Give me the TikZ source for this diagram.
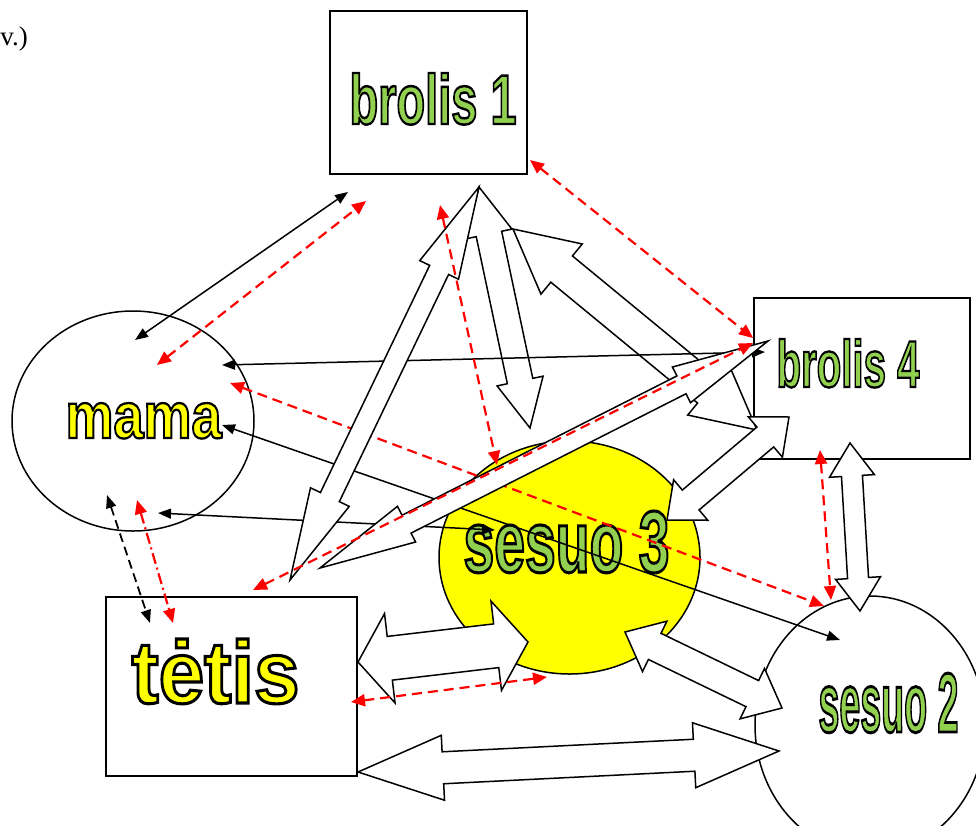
\documentclass[tikz,border=0pt]{standalone}
\usepackage{fontspec}
\setmainfont{Liberation Serif}
\newfontfamily\lblfont{Liberation Sans}
\usetikzlibrary{calc,arrows.meta,shapes.geometric}
\definecolor{lgreen}{RGB}{146,208,80}
\definecolor{yel}{RGB}{255,255,0}

% double block arrow: tip, tip, shaft half width, head half width, head length
\newcommand{\dblarr}[5]{%
  \filldraw[blockarr] (#1)
    -- ($(#1)!#5!(#2)!#4!90:(#2)$) -- ($(#1)!#5!(#2)!#3!90:(#2)$)
    -- ($(#2)!#5!(#1)!#3!-90:(#1)$) -- ($(#2)!#5!(#1)!#4!-90:(#1)$)
    -- (#2)
    -- ($(#2)!#5!(#1)!#4!90:(#1)$) -- ($(#2)!#5!(#1)!#3!90:(#1)$)
    -- ($(#1)!#5!(#2)!#3!-90:(#2)$) -- ($(#1)!#5!(#2)!#4!-90:(#2)$)
    -- cycle;}
% outlined word squeezed to width #1 and height #2
\newcommand{\famname}[3]{\resizebox{#1}{#2}{\special{pdf:literal direct 0 0 0 RG 2.8 w 2 Tr}#3\special{pdf:literal direct 0 Tr}}}

\begin{document}
\begin{tikzpicture}[x=1pt,y=-1pt,
    famnode/.style={draw, line width=1.5pt, inner sep=0pt},
    lbl/.style={anchor=base, inner sep=0pt, font=\lblfont\bfseries\fontsize{80pt}{80pt}\selectfont},
    blockarr/.style={draw=black, fill=white, line width=1.5pt, line join=miter},
    link/.style={line width=1.5pt, >={Triangle[length=13pt,width=10pt]}, <->},
    blink/.style={link, line width=1.8pt, dash pattern=on 9pt off 5pt},
    rlink/.style={red, line width=2.2pt, dash pattern=on 10pt off 6pt, >={Triangle[length=14pt,width=12pt]}, <->},
    rdlink/.style={rlink, dash pattern=on 11pt off 4pt on 2pt off 4pt}]
\useasboundingbox (0,0) rectangle (976,825);

\node[anchor=base east, inner sep=0pt, font=\fontsize{27pt}{30pt}\selectfont] (note) at (28,45) {v.)};

% family
\node[famnode, minimum width=197pt, minimum height=163pt] (b1) at (428.5,92.5) {};
\node[famnode, minimum width=216pt, minimum height=161pt] (b4) at (862,378.5) {};
\node[famnode, minimum width=251pt, minimum height=179pt] (tetis) at (231.5,686.5) {};
\node[famnode, ellipse, minimum width=242pt, minimum height=220pt] (mama) at (133,421) {};
\node[famnode, ellipse, fill=yel, minimum width=261pt, minimum height=233pt] (s3) at (569.5,557.5) {};
\node[famnode, ellipse, minimum width=230pt, minimum height=258pt] (s2) at (870,725) {};

\node[lbl, text=lgreen] (b1txt) at (433,124) {\famname{167pt}{51pt}{brolis 1}};
\node[lbl, text=lgreen] (b4txt) at (848,387) {\famname{143pt}{48pt}{brolis 4}};
\node[lbl, text=yel] (mamatxt) at (143.5,438) {\famname{156pt}{35pt}{mama}};
\node[lbl, text=yel] (tetistxt) at (215.5,703) {\famname{168pt}{64pt}{tėtis}};
\node[lbl, text=lgreen] (s3txt) at (566.5,572) {\famname{206pt}{61pt}{sesuo 3}};
\node[lbl, text=lgreen] (s2txt) at (888.5,732) {\famname{140pt}{59pt}{sesuo 2}};

% ends of the links
\coordinate (m-b1) at (135,340);   \coordinate (b1-m) at (348,192);
\coordinate (m-b1r) at (157,365);  \coordinate (b1-mr) at (366,201);
\coordinate (b1-s3r) at (440,205); \coordinate (s3-b1r) at (497,465);
\coordinate (b1-b4r) at (530,160); \coordinate (b4-b1r) at (753,338);
\coordinate (m-b4) at (222,365);   \coordinate (b4-m) at (765,352);
\coordinate (m-s2r) at (230,383);  \coordinate (s2-mr) at (824,606);
\coordinate (m-s2) at (222,425);   \coordinate (s2-m) at (840,640);
\coordinate (m-s3) at (158,513);   \coordinate (s3-m) at (495,530);
\coordinate (m-t) at (107,495);    \coordinate (t-m) at (150,623);
\coordinate (m-tr) at (137,500);   \coordinate (t-mr) at (173,623);
\coordinate (t-b4r) at (253,590);  \coordinate (b4-tr) at (753,343);
\coordinate (t-s3r) at (351,702);  \coordinate (s3-tr) at (547,677);
\coordinate (b4-s2r) at (820,450); \coordinate (s2-b4r) at (831,600);

% tips of the block arrows
\coordinate (b1-tA) at (479,187);  \coordinate (t-b1A) at (290,580);
\coordinate (b1-s3A) at (479,187); \coordinate (s3-b1A) at (530,428);
\coordinate (b1-b4A) at (513,229); \coordinate (b4-b1A) at (757,430);
\coordinate (b4-s3A) at (789,417); \coordinate (s3-b4A) at (667,520);
\coordinate (b4-tA) at (768,341);  \coordinate (t-b4A) at (320,568);
\coordinate (b4-s2A) at (850,443); \coordinate (s2-b4A) at (860,611);
\coordinate (t-s3A) at (358,662);  \coordinate (s3-tA) at (528,642);
\coordinate (s3-s2A) at (625,632); \coordinate (s2-s3A) at (782,708);
\coordinate (t-s2A) at (358,772);  \coordinate (s2-tA) at (779,751);

\dblarr{b1-b4A}{b4-b1A}{17pt}{32.5pt}{63pt}
\dblarr{b1-s3A}{s3-b1A}{13pt}{23.5pt}{48pt}

\draw[link] (m-b4) -- (b4-m);
\draw[rlink] (m-s2r) -- (s2-mr);
\draw[link] (m-s2) -- (s2-m);
\draw[link] (m-s3) -- (s3-m);

\dblarr{b1-tA}{t-b1A}{10.5pt}{21.5pt}{92pt}
\dblarr{t-b4A}{b4-tA}{10pt}{20pt}{97pt}
\dblarr{s3-b4A}{b4-s3A}{13pt}{26.5pt}{31pt}
\dblarr{b4-s2A}{s2-b4A}{10.5pt}{22.5pt}{33pt}
\dblarr{t-s3A}{s3-tA}{22pt}{45pt}{32pt}
\dblarr{s3-s2A}{s2-s3A}{14.5pt}{28pt}{33pt}
\dblarr{t-s2A}{s2-tA}{16pt}{32.5pt}{85pt}

\draw[link] (m-b1) -- (b1-m);
\draw[rlink] (m-b1r) -- (b1-mr);
\draw[rlink] (b1-s3r) -- (s3-b1r);
\draw[rlink] (b1-b4r) -- (b4-b1r);
\draw[blink] (m-t) -- (t-m);
\draw[rdlink] (m-tr) -- (t-mr);
\draw[rlink] (t-b4r) -- (b4-tr);
\draw[rlink] (t-s3r) -- (s3-tr);
\draw[rlink] (b4-s2r) -- (s2-b4r);
\end{tikzpicture}
\end{document}
